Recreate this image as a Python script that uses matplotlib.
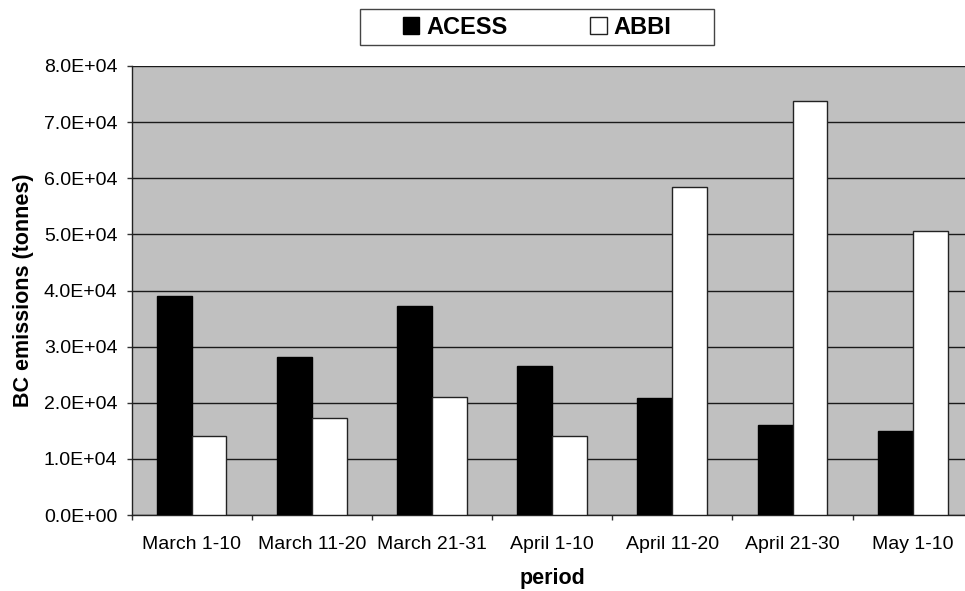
import matplotlib
matplotlib.use("Agg")
import matplotlib.pyplot as plt
import numpy as np
from matplotlib.patches import Rectangle

plt.rcParams["font.family"] = ["Liberation Sans", "DejaVu Sans"]

PERIODS = ["March 1-10", "March 11-20", "March 21-31", "April 1-10",
           "April 11-20", "April 21-30", "May 1-10"]
ACESS = [3.90e4, 2.82e4, 3.72e4, 2.66e4, 2.08e4, 1.61e4, 1.50e4]
ABBI = [1.40e4, 1.73e4, 2.10e4, 1.41e4, 5.85e4, 7.37e4, 5.06e4]
Y_TICKS = [0, 1e4, 2e4, 3e4, 4e4, 5e4, 6e4, 7e4, 8e4]

W, H = 965, 591
fig = plt.figure(figsize=(W / 100, H / 100), dpi=100)
# plot area runs slightly past the right edge of the picture, as in the source
ax = fig.add_axes([131.5 / W, (H - 515) / H, (972.8 - 131.5) / W, (515 - 66) / H])
ax.set_facecolor("#c0c0c0")

x = np.arange(len(PERIODS))
bw = 0.29
ax.bar(x - bw / 2, ACESS, width=bw, color="black", edgecolor="black",
       linewidth=1, zorder=3, label="ACESS")
ax.bar(x + bw / 2, ABBI, width=bw, color="white", edgecolor="#222222",
       linewidth=1, zorder=3, label="ABBI")

ax.set_xlim(-0.5, len(PERIODS) - 0.5)
ax.set_ylim(0, 8e4)
ax.set_yticks(Y_TICKS)
ax.set_yticklabels([f"{v / 10 ** 4:.1f}E+04" if v else "0.0E+00" for v in Y_TICKS],
                   fontsize=14)
ax.yaxis.grid(True, color="#1a1a1a", linewidth=1, zorder=1)
ax.set_axisbelow(True)

ax.set_xticks(np.arange(len(PERIODS) + 1) - 0.5)
ax.set_xticklabels([])
ax.set_xticks(x, minor=True)
ax.set_xticklabels(PERIODS, minor=True, fontsize=14)
ax.tick_params(axis="x", which="minor", length=0, pad=15)
ax.tick_params(axis="both", which="major", length=3.6, width=1, color="#333333")
ax.tick_params(axis="y", pad=6.5)

for side in ("top", "right"):
    ax.spines[side].set_visible(False)
for side in ("left", "bottom"):
    ax.spines[side].set_color("#222222")
    ax.spines[side].set_linewidth(1)

ax.set_ylabel("BC emissions (tonnes)", fontsize=15.5, fontweight="bold", labelpad=7)
ax.set_xlabel("period", fontsize=15.5, fontweight="bold", labelpad=11)

# legend box drawn separately so the padding can be wide left/right
fig.patches.append(Rectangle((359.7 / W, (H - 45.3) / H), (714.3 - 359.7) / W,
                             36.3 / H, transform=fig.transFigure, fill=False,
                             edgecolor="#444444", linewidth=1))
fig.legend(loc="center", bbox_to_anchor=(537 / W, (H - 27) / H), ncol=2,
           frameon=False, prop={"size": 17, "weight": "bold"},
           handlelength=0.7, handleheight=0.7, handletextpad=0.3,
           columnspacing=3.5, borderpad=0)

fig.savefig("out.png", dpi=100)
